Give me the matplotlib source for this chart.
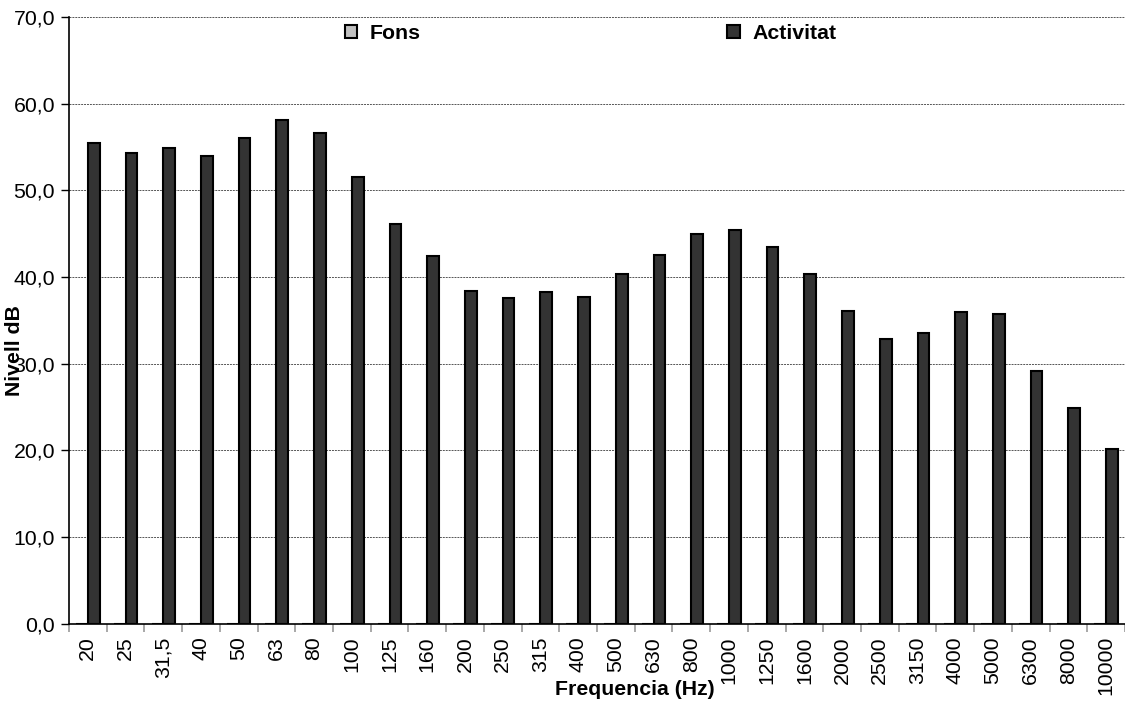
import numpy as np
import matplotlib.pyplot as plt
from matplotlib.ticker import FuncFormatter, MultipleLocator

plt.rcParams['font.family'] = ['Liberation Sans', 'DejaVu Sans']

# bandes de terç d'octava
freqs = ['20', '25', '31,5', '40', '50', '63', '80', '100', '125', '160',
         '200', '250', '315', '400', '500', '630', '800', '1000', '1250', '1600',
         '2000', '2500', '3150', '4000', '5000', '6300', '8000', '10000']
activitat = [55.5, 54.3, 54.9, 53.9, 56.0, 58.1, 56.6, 51.5, 46.1, 42.4,
             38.4, 37.6, 38.3, 37.7, 40.4, 42.5, 45.0, 45.4, 43.5, 40.4,
             36.1, 32.8, 33.5, 36.0, 35.7, 29.1, 24.9, 20.1]
fons = [0.0] * len(freqs)

x = np.arange(len(freqs))
w = 0.31
fs = 15.3

fig = plt.figure(figsize=(11.25, 7.04), dpi=100)
ax = fig.add_axes([0.0613, 0.114, 0.9387, 0.862])

ax.bar(x - w / 2, fons, w, color='#c0c0c0', edgecolor='black', linewidth=1.5, label='Fons', zorder=3)
ax.bar(x + w / 2, activitat, w, color='#333333', edgecolor='black', linewidth=1.5, label='Activitat', zorder=3)

ax.set_xlim(-0.5, len(freqs) - 0.5)
ax.set_ylim(0, 70)
ax.yaxis.set_major_locator(MultipleLocator(10))
ax.yaxis.set_major_formatter(FuncFormatter(lambda v, p: f'{v:.1f}'.replace('.', ',')))
ax.grid(axis='y', linestyle=(0, (2, 1)), color='#555555', linewidth=0.7, zorder=0)

ax.set_xticks(x)
ax.set_xticklabels(freqs, rotation=90)
ax.set_xticks(np.arange(len(freqs) + 1) - 0.5, minor=True)
ax.tick_params(axis='x', which='major', length=0, labelsize=fs, pad=9)
ax.tick_params(axis='x', which='minor', length=6, color='#999999', width=1.2)
ax.tick_params(axis='y', length=6, labelsize=fs, width=1, pad=4)

for s in ['top', 'right']:
    ax.spines[s].set_visible(False)
ax.spines['left'].set_linewidth(1.2)
ax.spines['bottom'].set_linewidth(1.2)

# l'etiqueta queda damunt dels valors de l'eix, com a l'original
ax.set_ylabel('Nivell dB', fontsize=fs, fontweight='bold')
ax.yaxis.set_label_coords(-0.043, 0.45)
ax.set_xlabel('Frequencia (Hz)', fontsize=fs, fontweight='bold')
ax.xaxis.set_label_coords(0.536, -0.092)

ax.legend(loc='upper center', bbox_to_anchor=(0.494, 1.02), ncol=2, frameon=False,
          prop={'weight': 'bold', 'size': fs}, handlelength=0.6, handleheight=0.6,
          handletextpad=0.6, columnspacing=14.4)

fig.savefig('out.png', dpi=100)
